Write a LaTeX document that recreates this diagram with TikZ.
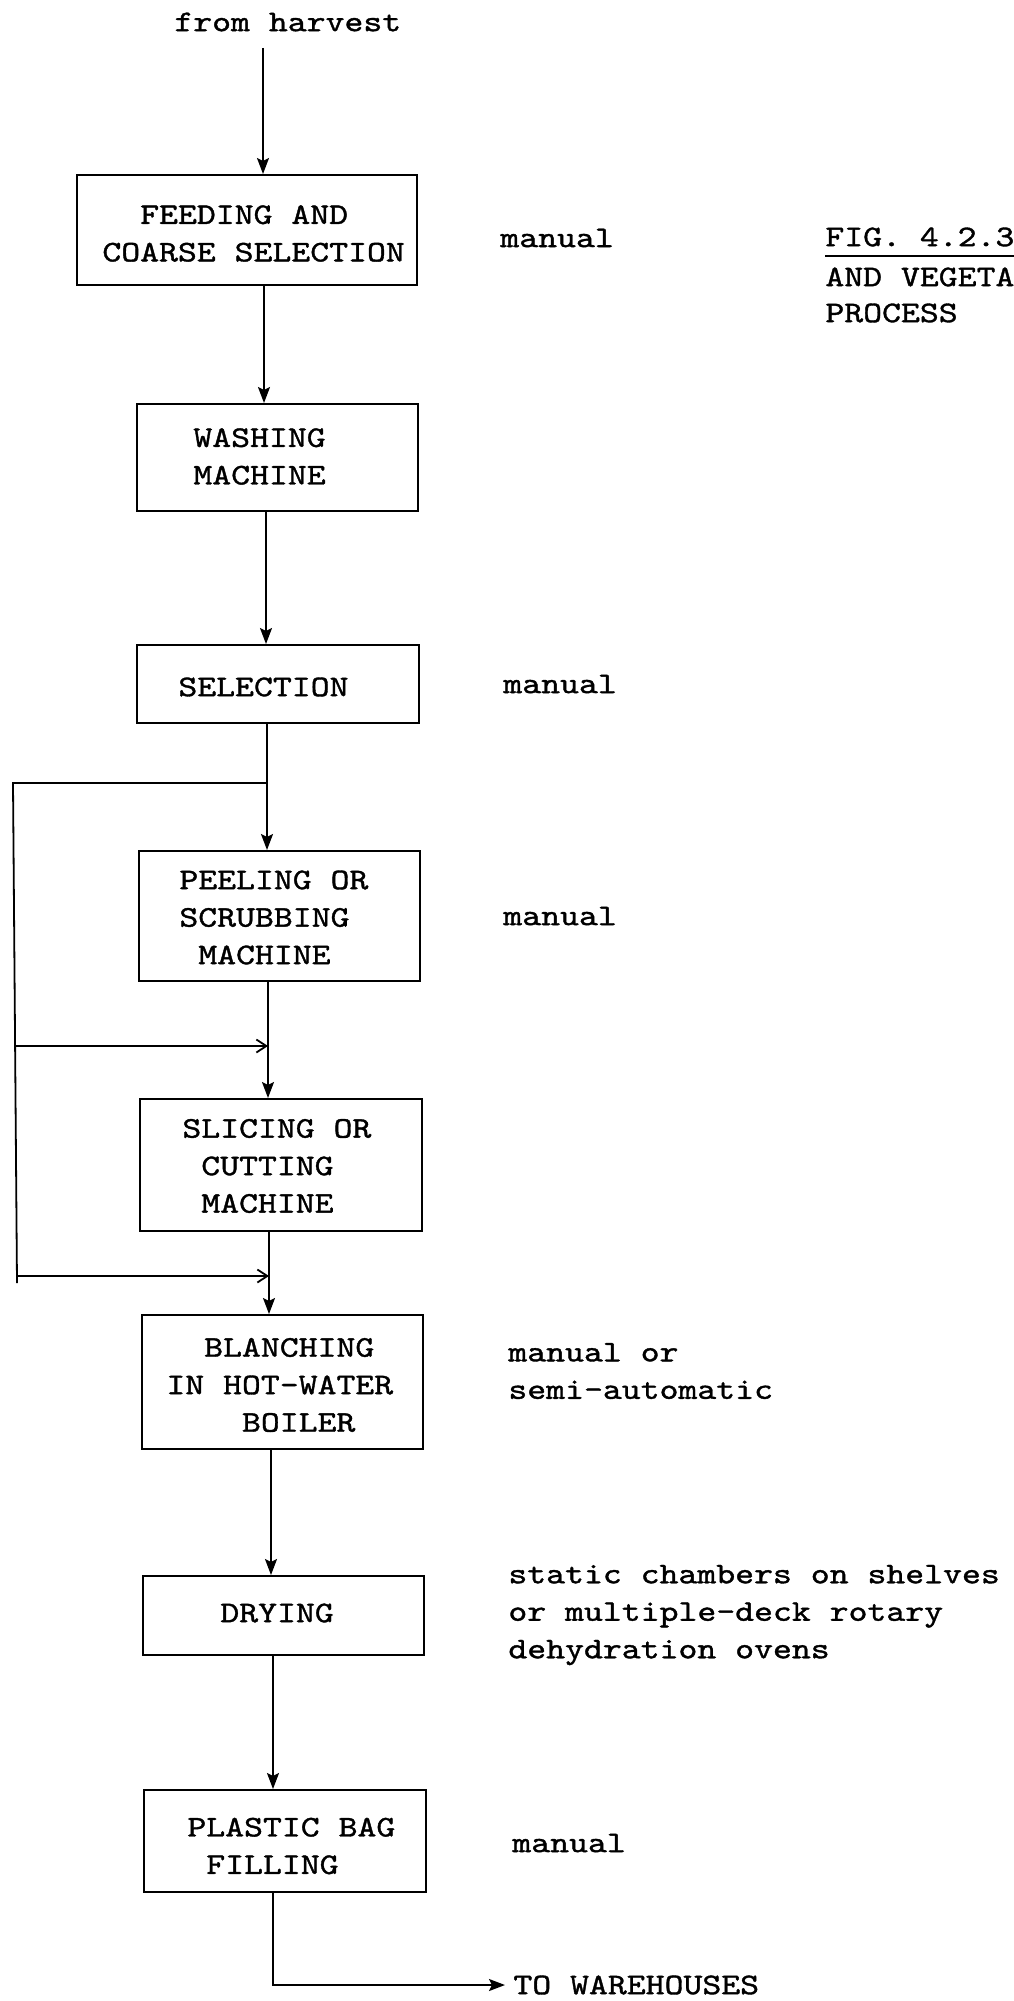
\documentclass[tikz,border=0pt]{standalone}
\usepackage{fontspec}
\newfontfamily\twfont{lmmono10-regular.otf}[FakeStretch=1.2,FakeBold=1.2]
\usetikzlibrary{arrows.meta,calc}
\newcommand\tsp[1]{\leavevmode\hphantom{#1}}
\begin{document}
\begin{tikzpicture}[x=0.5pt,y=-0.5pt,
  txt/.style={font=\twfont\fontsize{15pt}{18.75pt}\selectfont, inner sep=0pt, anchor=west, align=left},
  box/.style={draw, line width=1pt, inner sep=0pt},
  conn/.style={line width=0.9pt},
  arr/.style={conn, -{Stealth[length=8pt,width=6pt,inset=1.5pt]}},
  barb/.style={conn, -{Straight Barb[length=5pt,width=6.5pt]}}]
\useasboundingbox (0,0) rectangle (1013,2001);

% boxes
\node[box, minimum width=170pt,   minimum height=55pt]   (b1) at (247,230)    {};
\node[box, minimum width=140.5pt, minimum height=53.5pt] (b2) at (277.5,457.5) {};
\node[box, minimum width=141pt,   minimum height=39pt]   (b3) at (278,684)    {};
\node[box, minimum width=140.5pt, minimum height=65pt]   (b4) at (279.5,916)  {};
\node[box, minimum width=141pt,   minimum height=66pt]   (b5) at (281,1165)   {};
\node[box, minimum width=140.5pt, minimum height=67pt]   (b6) at (282.5,1382) {};
\node[box, minimum width=140.5pt, minimum height=39.5pt] (b7) at (283.5,1615.5) {};
\node[box, minimum width=141pt,   minimum height=51pt]   (b8) at (285,1841)   {};

% box texts
\node[txt] (t1) at (102,233.5) {\tsp{XX}FEEDING AND\\COARSE SELECTION};
\node[txt] (t2) at (193,456.5) {WASHING\\MACHINE};
\node[txt] (t3) at (178,687)   {SELECTION};
\node[txt] (t4) at (179,917.5) {PEELING OR\\SCRUBBING\\\tsp{X}MACHINE};
\node[txt] (t5) at (182,1166)  {SLICING OR\\\tsp{X}CUTTING\\\tsp{X}MACHINE};
\node[txt] (t6) at (166,1385)  {\tsp{XX}BLANCHING\\IN HOT-WATER\\\tsp{XXXX}BOILER};
\node[txt] (t7) at (220,1613)  {DRYING};
\node[txt] (t8) at (187,1846)  {PLASTIC BAG\\\tsp{X}FILLING};

% side labels
\node[txt] (fh) at (174,22)   {from harvest};
\node[txt] (l1) at (500,238)  {manual};
\node[txt] (l3) at (503,684)  {manual};
\node[txt] (l4) at (503,916)  {manual};
\node[txt] (l6) at (508,1371) {manual or\\semi-automatic};
\node[txt] (l7) at (508,1615) {static chambers on shelves\\or multiple-deck rotary\\dehydration ovens};
\node[txt] (l8) at (512,1843) {manual};
\node[txt, inner xsep=4pt] (tw) at (505,1985) {TO WAREHOUSES};

% caption (cut by the page edge)
\node[txt] (fig) at (825,237) {FIG. 4.2.3};
\draw[line width=1pt] ([yshift=-5pt]fig.base west) -- ([yshift=-5pt]fig.base east);
\node[txt] (cap2) at (825,277) {AND VEGETA};
\node[txt] (cap3) at (825,313) {PROCESS};

% connectors
\coordinate (src) at (263,48);
\coordinate (x2) at (264,0);
\coordinate (x3) at (266,0);
\coordinate (br) at (267,783);
\coordinate (lt) at (13,783);
\coordinate (lb) at (17,1283);
\coordinate (j1) at (268,1046);
\coordinate (j2) at (269,1276);
\coordinate (x7) at (271,0);
\coordinate (x8) at (273,0);
\coordinate (endc) at (273,1985);

\draw[arr] (src) -- (b1.north -| src);
\draw[arr] (b1.south -| x2) -- (b2.north -| x2);
\draw[arr] (b2.south -| x3) -- (b3.north -| x3);
\draw[arr] (b3.south -| br) -- (b4.north -| br);
\draw[conn] (br) -- (lt) -- (lb);
\draw[barb] ($(lt)!0.526!(lb)$) -- (j1);
\draw[arr] (b4.south -| j1) -- (b5.north -| j1);
\draw[barb] ($(lt)!0.986!(lb)$) -- (j2);
\draw[arr] (b5.south -| j2) -- (b6.north -| j2);
\draw[arr] (b6.south -| x7) -- (b7.north -| x7);
\draw[arr] (b7.south -| x8) -- (b8.north -| x8);
\draw[arr] (b8.south -| endc) -- (endc) -- (tw.west);
\end{tikzpicture}
\end{document}
